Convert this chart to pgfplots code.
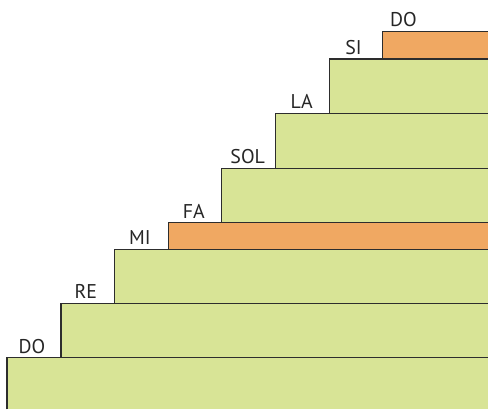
\documentclass[border=0pt]{standalone}
\usepackage{pgfplots}
\pgfplotsset{compat=1.18}
\usepackage{fontspec}
\setmainfont{PT Sans}
\definecolor{stepgreen}{RGB}{216,228,150}
\definecolor{steporange}{RGB}{240,168,98}
\definecolor{edge}{RGB}{45,45,45}
\begin{document}
\begin{tikzpicture}
\begin{axis}[
  width=489bp, height=410bp, scale only axis,
  xmin=0, xmax=489, ymin=0, ymax=410,
  hide axis, clip=false,
]
\path (axis cs:0,0) rectangle (axis cs:489,410);
% bands: riser x, bottom, top
\addplot[fill=stepgreen, draw=none] coordinates {(7,0) (7,52) (489,52) (489,0)};
\addplot[fill=stepgreen, draw=none] coordinates {(61,52) (61,106.5) (489,106.5) (489,52)};
\addplot[fill=stepgreen, draw=none] coordinates {(114.5,106.5) (114.5,160.5) (489,160.5) (489,106.5)};
\addplot[fill=steporange, draw=none] coordinates {(168.5,160.5) (168.5,187) (489,187) (489,160.5)};
\addplot[fill=stepgreen, draw=none] coordinates {(222,187) (222,241.5) (489,241.5) (489,187)};
\addplot[fill=stepgreen, draw=none] coordinates {(276,241.5) (276,296.5) (489,296.5) (489,241.5)};
\addplot[fill=stepgreen, draw=none] coordinates {(329.5,296.5) (329.5,351) (489,351) (489,296.5)};
\addplot[fill=steporange, draw=none] coordinates {(383,351) (383,378.5) (489,378.5) (489,351)};
% edges
\addplot[draw=edge, line width=1.2pt] coordinates {(7,0) (7,52) (489,52)};
\addplot[draw=edge, line width=1.2pt] coordinates {(61,52) (61,106.5) (489,106.5)};
\addplot[draw=edge, line width=1.2pt] coordinates {(114.5,106.5) (114.5,160.5) (489,160.5)};
\addplot[draw=edge, line width=1.2pt] coordinates {(168.5,160.5) (168.5,187) (489,187)};
\addplot[draw=edge, line width=1.2pt] coordinates {(222,187) (222,241.5) (489,241.5)};
\addplot[draw=edge, line width=1.2pt] coordinates {(276,241.5) (276,296.5) (489,296.5)};
\addplot[draw=edge, line width=1.2pt] coordinates {(329.5,296.5) (329.5,351) (489,351)};
\addplot[draw=edge, line width=1.2pt] coordinates {(383,351) (383,378.5) (489,378.5)};
% labels
\begin{scope}[every node/.style={anchor=base, font=\fontsize{20}{21}\selectfont, text=black!85, inner sep=0pt}]
\node at (axis cs:32,56) {DO};
\node at (axis cs:86,111) {RE};
\node at (axis cs:140,165) {MI};
\node at (axis cs:194,191.5) {FA};
\node at (axis cs:248,246) {SOL};
\node at (axis cs:302,301) {LA};
\node at (axis cs:354,355.5) {SI};
\node at (axis cs:404,383) {DO};
\end{scope}
\end{axis}
\end{tikzpicture}
\end{document}
